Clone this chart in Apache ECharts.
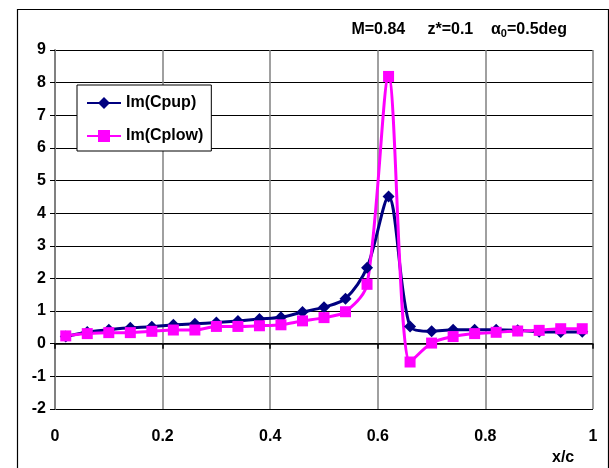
<!DOCTYPE html>
<html><head><meta charset="utf-8">
<script src="https://cdn.jsdelivr.net/npm/echarts@6/dist/echarts.min.js"></script>
<style>html,body{margin:0;padding:0;background:#fff}#c{width:609px;height:468px}</style>
</head><body><div id="c"></div>
<script>
const xValues = [0.02,0.06,0.10,0.14,0.18,0.22,0.26,0.30,0.34,0.38,0.42,0.46,0.50,0.54,0.58,0.62,0.66,0.70,0.74,0.78,0.82,0.86,0.90,0.94,0.98];
const cpUp  = [0.22,0.36,0.43,0.49,0.52,0.58,0.61,0.65,0.70,0.76,0.81,0.97,1.12,1.38,2.33,4.51,0.53,0.38,0.43,0.43,0.43,0.41,0.37,0.36,0.37];
const cpLow = [0.24,0.31,0.34,0.34,0.38,0.42,0.42,0.53,0.53,0.55,0.58,0.70,0.80,0.98,1.82,8.19,-0.56,0.02,0.22,0.31,0.35,0.39,0.41,0.46,0.46];
const xTicks = [0,0.2,0.4,0.6,0.8,1];
const yTicks = [-2,-1,0,1,2,3,4,5,6,7,8,9];
const seriesNames = ['Im(Cpup)','Im(Cplow)'];
const titleText = ['M=0.84     z*=0.1    α','0','=0.5deg'];
const xName = 'x/c';

const font = '"Liberation Sans", Arial, sans-serif';
const chart = echarts.init(document.getElementById('c'), null, {renderer:'canvas'});
const pair = (ys) => xValues.map((x,i)=>[x, ys[i]]);
chart.setOption({
  animation:false,
  backgroundColor:'#fff',
  title:{
    right:42, top:20, padding:0,
    text:'{a|'+titleText[0]+'}{s|'+titleText[1]+'}{a|'+titleText[2]+'}',
    textStyle:{rich:{
      a:{fontFamily:font,fontWeight:'bold',fontSize:16,color:'#000'},
      s:{fontFamily:font,fontWeight:'bold',fontSize:11,color:'#000',verticalAlign:'bottom',padding:[8,0,0,0]}
    }}
  },
  grid:{left:55, right:16, top:50, bottom:59, containLabel:false},
  legend:{
    left:77, top:85, orient:'vertical',
    backgroundColor:'#fff', borderColor:'#000', borderWidth:1,
    padding:[10,8,7,9], itemGap:17, itemWidth:34, itemHeight:15,
    textStyle:{fontFamily:font,fontWeight:'bold',fontSize:16,color:'#000'},
    data:seriesNames
  },
  xAxis:[{
    type:'value', min:xTicks[0], max:xTicks[xTicks.length-1], interval:0.2,
    position:'bottom',
    axisLine:{show:false, onZero:false},
    axisTick:{show:false},
    axisLabel:{margin:20, fontFamily:font, fontWeight:'bold', fontSize:16, color:'#000',
      formatter:v=>String(+v.toFixed(1))},
    splitLine:{show:true, lineStyle:{color:'#808080', width:1.5}}
  },{
    type:'value', min:xTicks[0], max:xTicks[xTicks.length-1], interval:0.2,
    position:'top',
    axisLine:{show:true, onZero:true, lineStyle:{color:'#000', width:1.5}},
    axisTick:{show:true, inside:true, length:5, lineStyle:{color:'#000', width:1.5}},
    axisLabel:{show:false},
    splitLine:{show:false}
  }],
  yAxis:{
    type:'value', min:yTicks[0], max:yTicks[yTicks.length-1], interval:1,
    axisLine:{show:true, onZero:false, lineStyle:{color:'#808080', width:2}},
    axisTick:{show:true, length:5, lineStyle:{color:'#000', width:1}},
    axisLabel:{margin:9, fontFamily:font, fontWeight:'bold', fontSize:16, color:'#000'},
    splitLine:{show:true, lineStyle:{color:'#000', width:1}}
  },
  series:[{
    name:seriesNames[0], type:'line', xAxisIndex:0, data:pair(cpUp), smooth:0.3,
    symbol:'diamond', symbolSize:12, color:'#000080',
    lineStyle:{color:'#000080', width:3},
    itemStyle:{color:'#000080'}
  },{
    name:seriesNames[1], type:'line', xAxisIndex:0, data:pair(cpLow), smooth:0.3,
    symbol:'rect', symbolSize:11, color:'#FF00FF',
    lineStyle:{color:'#FF00FF', width:3},
    itemStyle:{color:'#FF00FF'}
  }],
  graphic:[
    {type:'rect', left:15, top:7, shape:{x:0,y:0,width:591,height:480}, style:{fill:null, stroke:'#000', lineWidth:1.2}, silent:true, z:-1},
    {type:'text', left:552, top:450, style:{text:xName, fontFamily:font, fontWeight:'bold', fontSize:16, fill:'#000'}}
  ]
});
</script></body></html>
